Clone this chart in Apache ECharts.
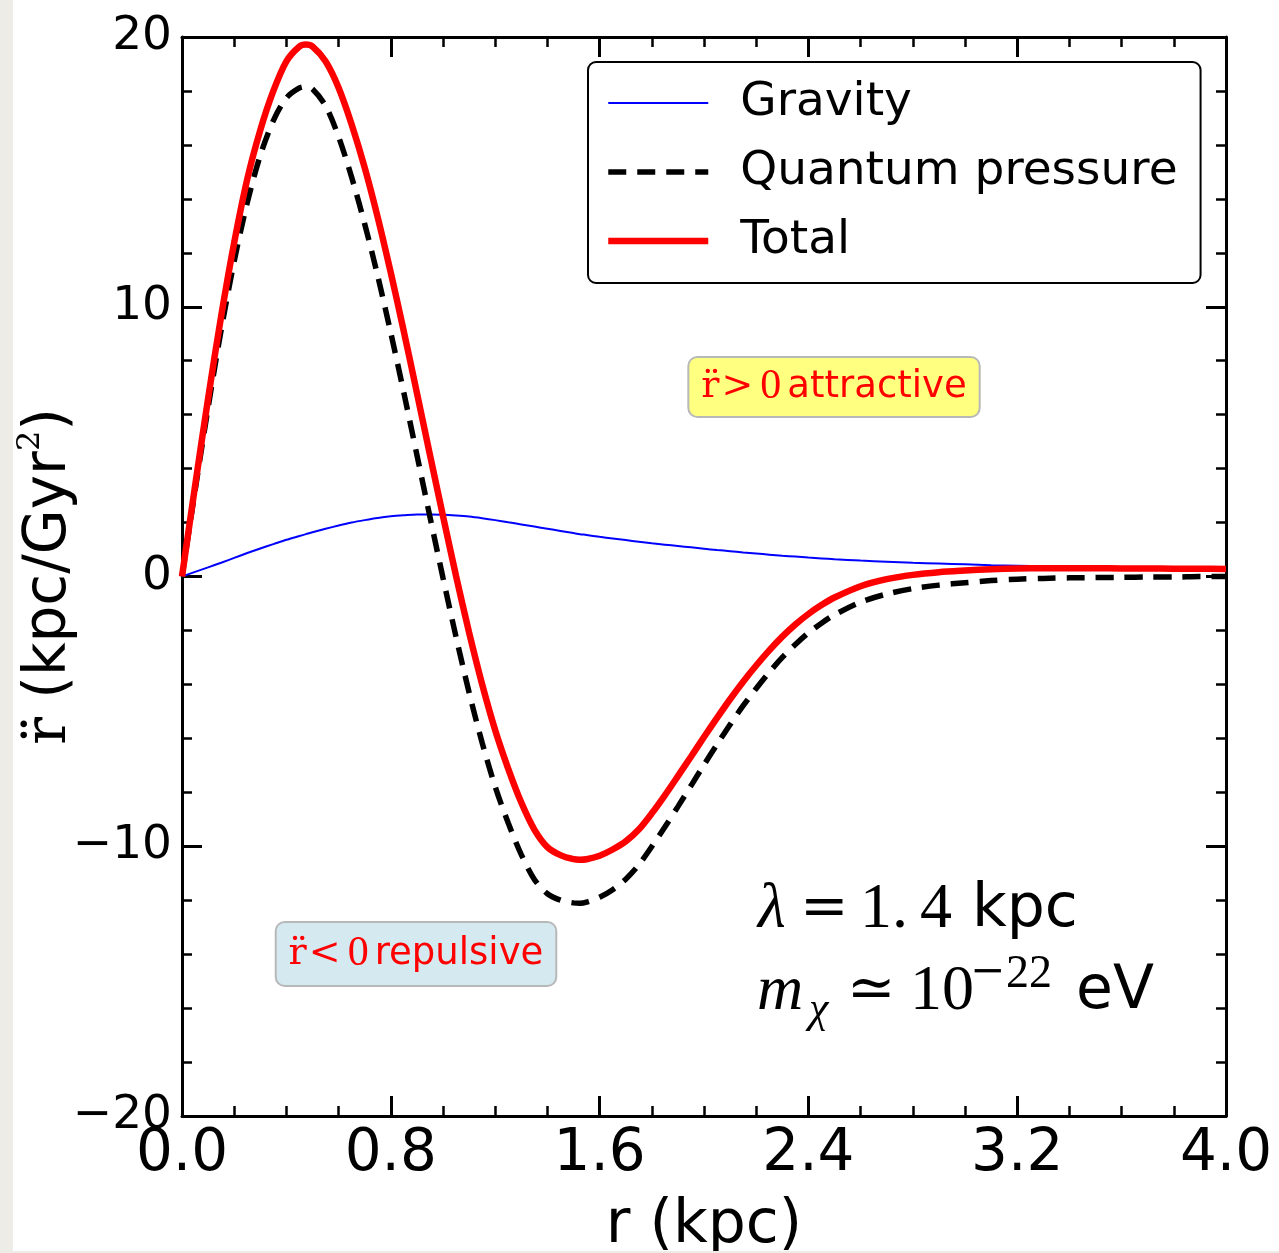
<!DOCTYPE html>
<html><head><meta charset="utf-8">
<script src="https://cdn.jsdelivr.net/npm/echarts@6/dist/echarts.min.js"></script>
<style>
html,body{margin:0;padding:0;background:#eeece7;width:1279px;height:1253px;overflow:hidden}
#c{position:absolute;left:13px;top:0;width:1266px;height:1251px;background:#fff}
</style></head><body><div id="c"></div>
<script>
const rValues = [0,0.05,0.1,0.15,0.2,0.25,0.3,0.35,0.4,0.45,0.475,0.5,0.55,0.6,0.65,0.7,0.75,0.8,0.85,0.9,0.95,
  1.0,1.05,1.1,1.15,1.2,1.25,1.3,1.35,1.4,1.45,1.5,1.525,1.55,1.6,1.65,1.7,1.75,1.8,1.85,1.9,1.95,
  2.0,2.05,2.1,2.15,2.2,2.25,2.3,2.35,2.4,2.45,2.5,2.6,2.7,2.8,2.9,3.0,3.1,3.2,3.3,3.4,3.5,3.6,3.7,3.8,3.9,4.0];
const gravity = [0,0.17,0.34,0.51,0.69,0.87,1.04,1.2,1.36,1.5,1.57,1.64,1.77,1.89,2.0,2.09,2.17,2.23,2.27,2.3,2.3,
  2.29,2.26,2.22,2.16,2.09,2.01,1.93,1.85,1.77,1.69,1.61,1.57,1.54,1.47,1.41,1.35,1.29,1.23,1.18,1.13,1.08,
  1.03,0.98,0.94,0.89,0.85,0.81,0.77,0.74,0.7,0.67,0.64,0.59,0.55,0.51,0.48,0.45,0.42,0.4,0.38,0.36,0.35,0.33,0.32,0.31,0.29,0.28];
const quantumPressure = [0,3.18,6.26,9.14,11.69,13.86,15.61,16.9,17.74,18.11,18.16,18.07,17.45,16.3,14.8,13.07,11.14,9.03,6.81,4.51,2.21,
  -0.05,-2.24,-4.3,-6.16,-7.79,-9.14,-10.31,-11.23,-11.76,-12.0,-12.1,-12.11,-12.07,-11.89,-11.61,-11.22,-10.69,-10.01,-9.29,-8.53,-7.76,
  -6.98,-6.22,-5.49,-4.79,-4.15,-3.55,-3.0,-2.52,-2.09,-1.73,-1.42,-0.95,-0.65,-0.45,-0.32,-0.23,-0.15,-0.1,-0.07,-0.05,-0.04,-0.03,-0.02,-0.02,0,0];
const total = [0,3.35,6.6,9.65,12.38,14.73,16.55,18.0,19.1,19.65,19.72,19.65,19.1,18.12,16.76,15.16,13.31,11.26,9.08,6.81,4.51,
  2.24,0.02,-2.08,-4.0,-5.7,-7.13,-8.38,-9.38,-10.03,-10.33,-10.48,-10.5,-10.48,-10.35,-10.12,-9.82,-9.38,-8.78,-8.11,-7.4,-6.68,
  -5.95,-5.24,-4.55,-3.9,-3.3,-2.74,-2.23,-1.78,-1.39,-1.06,-0.78,-0.36,-0.1,0.06,0.16,0.22,0.27,0.3,0.31,0.31,0.31,0.3,0.3,0.29,0.29,0.28];
const seriesNames = ['Gravity', 'Quantum pressure', 'Total'];
const xTickLabels = ['0.0','0.8','1.6','2.4','3.2','4.0'];
const yTickLabels = ['\u221220','\u221210','0','10','20'];

function pairs(ys) { return rValues.map((r, i) => [r, ys[i]]); }

const chart = echarts.init(document.getElementById('c'), null, {renderer: 'canvas'});
const FONT = 'DejaVu Sans';
const SERIF = 'DejaVu Serif';
const TIMES = 'Liberation Serif';

function mkX(pos, show) {
  return {
    type: 'value', position: pos, min: 0, max: 4, interval: 0.8,
    axisLine: {show: true, onZero: false, lineStyle: {color: '#000', width: 3}},
    axisTick: {show: true, inside: true, length: 20, lineStyle: {color: '#000', width: 3}},
    minorTick: {show: true, splitNumber: 4, length: 10, lineStyle: {color: '#000', width: 2.5}},
    splitLine: {show: false}, minorSplitLine: {show: false},
    axisLabel: {show: show, margin: 10, fontFamily: FONT, fontSize: 58, color: '#000',
      showMinLabel: true, showMaxLabel: true,
      formatter: v => xTickLabels[Math.round(v / 0.8)]},
    name: show ? 'r (kpc)' : '', nameLocation: 'middle', nameGap: 80, nameMoveOverlap: false,
    nameTextStyle: {fontFamily: FONT, fontSize: 60, color: '#000'}
  };
}
function mkY(pos, show) {
  return {
    type: 'value', position: pos, min: -20, max: 20, interval: 10,
    axisLine: {show: true, onZero: false, lineStyle: {color: '#000', width: 3}},
    axisTick: {show: true, inside: true, length: 20, lineStyle: {color: '#000', width: 3}},
    minorTick: {show: true, splitNumber: 5, length: 10, lineStyle: {color: '#000', width: 2.5}},
    splitLine: {show: false}, minorSplitLine: {show: false},
    axisLabel: {show: show, margin: 10, fontFamily: FONT, fontSize: 47, color: '#000',
      showMinLabel: true, showMaxLabel: true,
      formatter: v => yTickLabels[Math.round((v + 20) / 10)]},
    name: show ? '{m|r\u0308} (kpc/Gyr{s|2})' : '', nameLocation: 'middle', nameGap: 97, nameRotate: 90,
    nameMoveOverlap: false,
    nameTextStyle: {fontFamily: FONT, fontSize: 58, color: '#000', lineHeight: 70,
      rich: {m: {fontFamily: SERIF, fontSize: 58, lineHeight: 70, color: '#000'},
             s: {fontFamily: SERIF, fontSize: 32, lineHeight: 30, verticalAlign: 'top', color: '#000'}}}
  };
}

const boxRich = {
  r: {fontFamily: SERIF, fontSize: 38, lineHeight: 40, width: 20},
  o: {fontFamily: SERIF, fontSize: 38, lineHeight: 40, width: 34},
  z: {fontFamily: TIMES, fontSize: 42, lineHeight: 40, width: 33},
  t: {fontFamily: FONT, fontSize: 37, lineHeight: 40}
};

const option = {
  animation: false,
  backgroundColor: '#fff',
  grid: {left: 169, top: 37, right: 53, bottom: 135, outerBoundsMode: 'none', containLabel: false},
  xAxis: [mkX('bottom', true), mkX('top', false)],
  yAxis: [mkY('left', true), mkY('right', false)],
  legend: {
    orient: 'vertical', left: 575, top: 62, selectedMode: false,
    padding: [16, 23, 17, 17], itemGap: 19, itemWidth: 100, itemHeight: 20,
    backgroundColor: '#fff', borderColor: '#000', borderWidth: 2, borderRadius: 8,
    textStyle: {fontFamily: FONT, fontSize: 47, color: '#000', lineHeight: 50, padding: [0, 0, 0, 27]},
    itemStyle: {opacity: 0, color: 'rgba(0,0,0,0)', borderWidth: 0},
    data: [
      {name: seriesNames[0], lineStyle: {width: 2}, itemStyle: {opacity: 0}},
      {name: seriesNames[1], lineStyle: {width: 5.5}, itemStyle: {opacity: 0}},
      {name: seriesNames[2], lineStyle: {width: 6.5}, itemStyle: {opacity: 0}}
    ]
  },
  series: [
    {name: seriesNames[0], type: 'line', data: pairs(gravity), symbol: 'none', smooth: 0.3,
      lineStyle: {color: '#0000ff', width: 2}, itemStyle: {color: '#0000ff'}, emphasis: {disabled: true}},
    {name: seriesNames[1], type: 'line', data: pairs(quantumPressure), symbol: 'none', smooth: 0.3,
      lineStyle: {color: '#000000', width: 5.5, type: [18, 11]}, itemStyle: {color: '#000000'}, emphasis: {disabled: true}},
    {name: seriesNames[2], type: 'line', data: pairs(total), symbol: 'none', smooth: 0.3,
      lineStyle: {color: '#ff0000', width: 6.5}, itemStyle: {color: '#ff0000'}, emphasis: {disabled: true}}
  ],
  graphic: [
    {type: 'text', x: 821, y: 387, z: 100,
      style: {text: '{r|r\u0308}{o|>}{z|0}{t|attractive}', align: 'center', verticalAlign: 'middle',
        fill: '#ff0000', fontFamily: FONT, fontSize: 37, lineHeight: 40,
        backgroundColor: '#ffff80', borderColor: '#b8b8b8', borderWidth: 2, borderRadius: 8,
        padding: [9, 12, 9, 11], rich: boxRich}},
    {type: 'text', x: 403, y: 954, z: 100,
      style: {text: '{r|r\u0308}{o|<}{z|0}{t|repulsive}', align: 'center', verticalAlign: 'middle',
        fill: '#ff0000', fontFamily: FONT, fontSize: 37, lineHeight: 40,
        backgroundColor: '#d5e9f0', borderColor: '#b8b8b8', borderWidth: 2, borderRadius: 8,
        padding: [11, 12, 11, 11], rich: boxRich}},
    {type: 'text', x: 745, y: 910, z: 100,
      style: {text: '{i|\u03bb}{e|=}{d|1.}{f|4}{t|kpc}', align: 'left', verticalAlign: 'middle',
        fill: '#000', fontFamily: FONT, fontSize: 60, lineHeight: 60,
        rich: {i: {fontFamily: TIMES, fontStyle: 'italic', fontSize: 64, lineHeight: 60, width: 42},
               e: {fontFamily: SERIF, fontSize: 58, lineHeight: 60, width: 60},
               d: {fontFamily: TIMES, fontSize: 64, lineHeight: 60, width: 60},
               f: {fontFamily: TIMES, fontSize: 64, lineHeight: 60, width: 52},
               t: {fontFamily: FONT, fontSize: 60, lineHeight: 60}}}},
    {type: 'text', x: 744, y: 992, z: 100,
      style: {text: '{i|m}{sb|\u03c7}{e|\u2243}{d|10}{sm|\u2212}{sp|22}{t|eV}', align: 'left', verticalAlign: 'middle',
        fill: '#000', fontFamily: FONT, fontSize: 60, lineHeight: 80,
        rich: {i: {fontFamily: TIMES, fontStyle: 'italic', fontSize: 64, lineHeight: 80, width: 52},
               sb: {fontFamily: TIMES, fontStyle: 'italic', fontSize: 44, lineHeight: 34, verticalAlign: 'bottom', width: 38},
               e: {fontFamily: SERIF, fontSize: 58, lineHeight: 80, width: 63},
               d: {fontFamily: TIMES, fontSize: 64, lineHeight: 80, width: 60},
               sm: {fontFamily: SERIF, fontSize: 42, lineHeight: 34, verticalAlign: 'top', width: 36},
               sp: {fontFamily: TIMES, fontSize: 46, lineHeight: 34, verticalAlign: 'top', width: 70},
               t: {fontFamily: FONT, fontSize: 60, lineHeight: 80}}}}
  ]
};
chart.setOption(option);
</script></body></html>
